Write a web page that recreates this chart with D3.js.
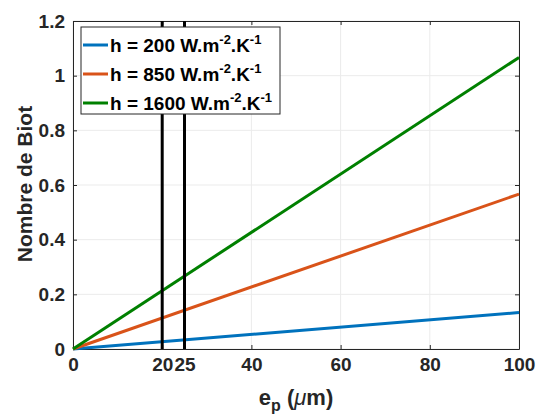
<!DOCTYPE html>
<html><head><meta charset="utf-8">
<script src="https://cdn.jsdelivr.net/npm/d3@7"></script>
<style>body{margin:0;background:#fff}svg{display:block;font-family:"Liberation Sans",Arial,sans-serif}</style>
</head><body><svg id="c" width="538" height="417"></svg>
<script>
const xDomain = [0, 100];
const yDomain = [0, 1.2];
const xTicks = [0, 20, 25, 40, 60, 80, 100];
const xTickLabels = ["0", "20", "25", "40", "60", "80", "100"];
const yTicks = [0, 0.2, 0.4, 0.6, 0.8, 1, 1.2];
const yTickLabels = ["0", "0.2", "0.4", "0.6", "0.8", "1", "1.2"];
const xGrid = [0, 20, 40, 60, 80, 100];
const epValues = [0, 100];
const hValues = [200, 850, 1600];
const seriesNames = ["h = 200", "h = 850", "h = 1600"];
const blueValues = [0, 0.1333];
const orangeValues = [0, 0.5667];
const greenValues = [0, 1.0667];
const seriesColors = ["#0072BD", "#D95319", "#008000"];
const vLines = [20, 25];

const svg = d3.select("#c");
const m = {l: 73, r: 519, t: 21, b: 349};
const x = d3.scaleLinear().domain(xDomain).range([m.l, m.r]);
const y = d3.scaleLinear().domain(yDomain).range([m.b, m.t]);

// grid
svg.append("g").selectAll("line").data(xGrid).join("line")
  .attr("x1", d => x(d)).attr("x2", d => x(d)).attr("y1", m.t).attr("y2", m.b)
  .attr("stroke", "#ebebeb").attr("stroke-width", 1);
svg.append("g").selectAll("line").data(yTicks).join("line")
  .attr("x1", m.l).attr("x2", m.r).attr("y1", d => y(d)).attr("y2", d => y(d))
  .attr("stroke", "#ebebeb").attr("stroke-width", 1);

// axes
const ax = svg.append("g").attr("transform", `translate(0,${m.b})`)
  .call(d3.axisBottom(x).tickValues(xTicks).tickFormat((d, i) => xTickLabels[i]).tickSizeInner(-4).tickSizeOuter(0).tickPadding(9));
const ay = svg.append("g").attr("transform", `translate(${m.l},0)`)
  .call(d3.axisLeft(y).tickValues(yTicks).tickFormat((d, i) => yTickLabels[i]).tickSizeInner(-4).tickSizeOuter(0).tickPadding(8));
const axTop = svg.append("g").attr("transform", `translate(0,${m.t})`)
  .call(d3.axisTop(x).tickValues(xGrid).tickFormat("").tickSizeInner(-4).tickSizeOuter(0));
const ayR = svg.append("g").attr("transform", `translate(${m.r},0)`)
  .call(d3.axisRight(y).tickValues(yTicks).tickFormat("").tickSizeInner(-4).tickSizeOuter(0));
[ax, ay, axTop, ayR].forEach(g => {
  g.select(".domain").attr("stroke", "#262626").attr("stroke-width", 1);
  g.selectAll(".tick line").attr("stroke", "#262626");
  g.selectAll(".tick text").attr("fill", "#262626").attr("font-size", 19).attr("font-weight", "bold")
    .attr("font-family", "'Liberation Sans',Arial,sans-serif");
});
ax.selectAll(".tick text").attr("dy", "0.71em");

// series
const seriesData = [blueValues, orangeValues, greenValues];
const line = d3.line().x((d, i) => x(epValues[i])).y(d => y(d));
seriesData.forEach((vals, i) => {
  svg.append("path").datum(vals).attr("d", line).attr("fill", "none")
    .attr("stroke", seriesColors[i]).attr("stroke-width", 3);
});

// vertical lines
svg.append("g").selectAll("line").data(vLines).join("line")
  .attr("x1", d => x(d)).attr("x2", d => x(d)).attr("y1", y(yDomain[1])).attr("y2", y(yDomain[0]))
  .attr("stroke", "#000").attr("stroke-width", 3);

// legend
const lg = svg.append("g");
lg.append("rect").attr("x", 81).attr("y", 27).attr("width", 199).attr("height", 87)
  .attr("fill", "#fff").attr("stroke", "#262626").attr("stroke-width", 1);
seriesNames.forEach((name, i) => {
  const yy = 45 + i * 29;
  lg.append("line").attr("x1", 83).attr("x2", 108).attr("y1", yy).attr("y2", yy)
    .attr("stroke", seriesColors[i]).attr("stroke-width", 3);
  const t = lg.append("text").attr("x", 110).attr("y", yy + 7).attr("font-size", 19)
    .attr("font-weight", "bold").attr("fill", "#000");
  t.append("tspan").text(name + " W.m");
  t.append("tspan").attr("font-size", 13).attr("dy", -8).text("-2");
  t.append("tspan").attr("dy", 8).text(".K");
  t.append("tspan").attr("font-size", 13).attr("dy", -8).text("-1");
});

// axis labels
const xl = svg.append("text").attr("x", 296).attr("y", 405).attr("text-anchor", "middle")
  .attr("font-size", 22).attr("font-weight", "bold").attr("fill", "#262626");
xl.append("tspan").text("e");
xl.append("tspan").attr("font-size", 16).attr("dy", 6).text("p");
xl.append("tspan").attr("dy", -6).text(" (");
xl.append("tspan").attr("font-style", "italic").attr("font-weight", "normal").text("μ");
xl.append("tspan").text("m)");

svg.append("text").attr("transform", `translate(32,184) rotate(-90)`)
  .attr("text-anchor", "middle").attr("font-size", 21).attr("font-weight", "bold").attr("fill", "#262626")
  .text("Nombre de Biot");
</script></body></html>
